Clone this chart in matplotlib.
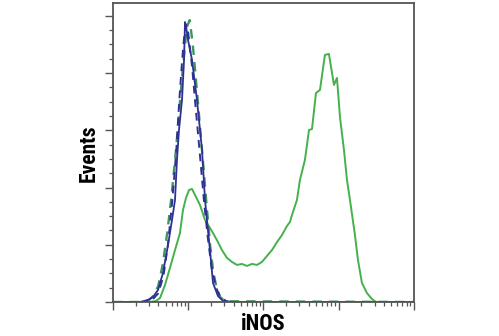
import numpy as np
import matplotlib
matplotlib.use("Agg")
import matplotlib.pyplot as plt
from matplotlib import font_manager
from matplotlib.ticker import MultipleLocator, LogLocator, NullFormatter

# iNOS histograms, x given as log10 fluorescence, y as event counts
green_x = [0.0, 0.492, 0.571, 0.625, 0.691, 0.757, 0.824, 0.890, 0.930, 0.970,
           1.010, 1.050, 1.090, 1.156, 1.223, 1.289, 1.329, 1.395, 1.448, 1.515,
           1.581, 1.648, 1.714, 1.781, 1.847, 1.914, 1.980, 2.047, 2.113, 2.180,
           2.246, 2.312, 2.352, 2.392, 2.445, 2.485, 2.551, 2.605, 2.645, 2.698,
           2.751, 2.817, 2.870, 2.937, 2.977, 3.017, 3.070, 3.110, 3.150, 3.216,
           3.256, 3.309, 3.375, 3.442, 3.495]
green_y = [0, 0, 0.7, 2.8, 11.9, 23.8, 36.3, 48.2, 64.3, 72.7,
           78.3, 79.0, 74.8, 67.8, 57.3, 51.7, 48.2, 41.9, 36.3, 30.8,
           28.0, 25.9, 26.6, 25.2, 26.6, 25.9, 28.0, 32.2, 36.3, 41.9,
           46.8, 53.1, 55.9, 62.9, 71.3, 85.3, 99.3, 120.2, 120.9, 146.1,
           148.2, 172.7, 173.4, 151.7, 156.6, 129.3, 106.2, 85.3, 71.3, 46.8,
           29.4, 13.3, 6.3, 2.1, 0]

green_dash_x = [0.0, 0.40, 0.48, 0.53, 0.60, 0.66, 0.72, 0.78, 0.84, 0.89,
                0.94, 0.98, 1.02, 1.06, 1.12, 1.18, 1.24, 1.29, 1.33, 1.38,
                1.43, 1.50, 4.0]
green_dash_y = [0, 0, 1.5, 4.0, 11.0, 26.0, 48.0, 75.0, 108.0, 140.0,
                170.0, 192.0, 197.0, 180.0, 145.0, 108.0, 70.0, 40.0, 22.0, 9.0,
                3.0, 0.5, 0]

blue_x = [0.0, 0.359, 0.465, 0.532, 0.598, 0.664, 0.731, 0.784, 0.824, 0.850,
          0.877, 0.917, 0.944, 0.957, 0.970, 0.997, 1.050, 1.116, 1.183, 1.223,
          1.262, 1.289, 1.329, 1.395, 1.462, 1.528, 4.0]
blue_y = [0, 0, 1.4, 3.5, 8.4, 20.3, 39.8, 57.3, 71.3, 99.3,
          120.2, 141.2, 169.2, 195.7, 192.9, 183.1, 169.2, 141.2, 106.2, 71.3,
          50.3, 36.3, 13.3, 4.2, 0.7, 0, 0]

navy_dash_x = [0.0, 0.45, 0.53, 0.60, 0.67, 0.73, 0.79, 0.84, 0.88, 0.92,
               0.95, 0.97, 1.00, 1.05, 1.10, 1.16, 1.21, 1.26, 1.31, 1.37,
               1.43, 1.50, 1.56, 4.0]
navy_dash_y = [0, 0, 2.0, 6.0, 18.0, 40.0, 72.0, 105.0, 140.0, 170.0,
               188.0, 194.0, 188.0, 165.0, 135.0, 100.0, 70.0, 45.0, 24.0, 10.0,
               3.0, 0.8, 0, 0]

fig = plt.figure(figsize=(4.99, 3.36), dpi=100)
ax = fig.add_axes([0.2265, 0.1012, 0.603, 0.890])

ax.plot(10 ** np.array(green_x), green_y, color="#44b14c", lw=1.4)
ax.plot(10 ** np.array(green_dash_x), green_dash_y, color="#3f9461", lw=1.7,
        dashes=(4, 3))
ax.plot(10 ** np.array(navy_dash_x), navy_dash_y, color="#2e3192", lw=1.4,
        dashes=(4, 3))
ax.plot(10 ** np.array(blue_x), blue_y, color="#2e3192", lw=1.3)

ax.set_xscale("log")
ax.set_xlim(1, 1e4)
ax.set_ylim(0, 209)

ax.xaxis.set_major_locator(LogLocator(base=10, numticks=10))
ax.xaxis.set_minor_locator(LogLocator(base=10, subs=np.arange(2, 10), numticks=10))
ax.xaxis.set_major_formatter(NullFormatter())
ax.xaxis.set_minor_formatter(NullFormatter())
ax.yaxis.set_major_locator(MultipleLocator(40))
ax.yaxis.set_minor_locator(MultipleLocator(10))
ax.yaxis.set_major_formatter(NullFormatter())

for s in ax.spines.values():
    s.set_color("#555555")
    s.set_linewidth(1.3)
ax.tick_params(which="major", direction="out", length=5.5, width=1.0, color="#555555")
ax.tick_params(which="minor", direction="out", length=3, width=0.9, color="#555555")

# condensed bold face for the axis titles, if one is installed
names = {f.name for f in font_manager.fontManager.ttflist}
lab_font = [n for n in ["Liberation Sans Narrow", "Roboto Condensed",
                        "Open Sans Condensed"] if n in names] + ["DejaVu Sans"]
fig.text(263 / 499, 1 - 324 / 336, "iNOS", ha="center", va="center",
         fontsize=16, fontweight="bold", fontstretch="condensed", family=lab_font)
fig.text(89 / 499, 1 - 153 / 336, "Events", ha="center", va="center",
         rotation=90, fontsize=15.5, fontweight="bold", fontstretch="condensed",
         family=lab_font)

fig.savefig("out.png", dpi=100)
